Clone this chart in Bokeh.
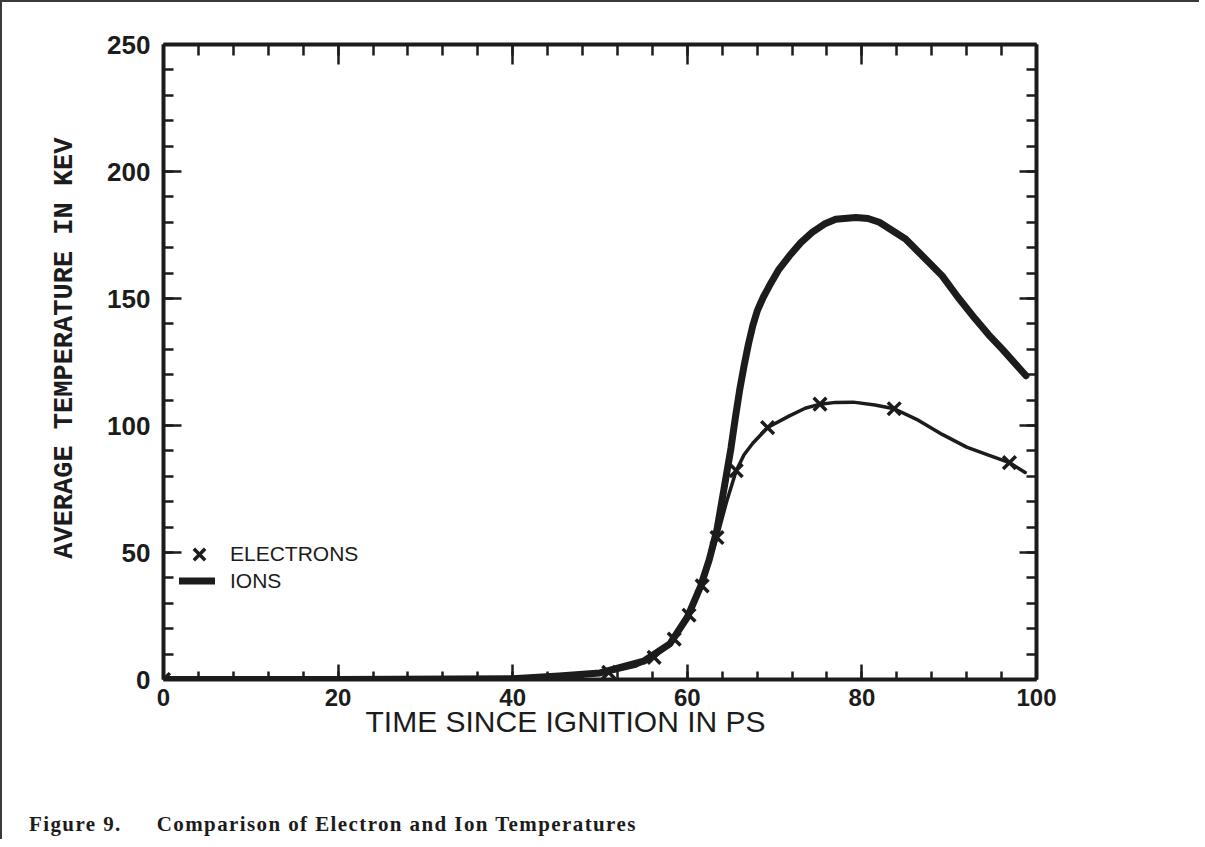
from bokeh.plotting import figure
from bokeh.models import (Range1d, LinearAxis, SingleIntervalTicker, Legend,
                          LegendItem, Title, Div)
from bokeh.layouts import column
from bokeh.embed import file_html
from bokeh.resources import INLINE

# ---------------- data ----------------
x_range_vals = [0, 100]
y_range_vals = [0, 250]

electron_marker_t = [0, 51.0, 56.2, 58.5, 60.2, 61.7, 63.4, 65.6, 69.2, 75.2, 83.7, 96.9]
electron_marker_T = [0, 2.8, 8.7, 15.9, 25.3, 36.9, 55.9, 82.2, 99.2, 108.4, 106.6, 85.4]

electron_curve_t = [0, 10, 20, 30, 40, 45, 48, 51.0, 54, 56.2, 58.5, 60.2, 61.7, 63.4, 64.5,
                    65.6, 66.5, 67.5, 69.2, 71.7, 73.5, 75.2, 77.0, 79.0, 81.5, 83.7, 86.5,
                    89.2, 92.0, 94.5, 96.9, 98.7]
electron_curve_T = [0, 0, 0, 0, 0.3, 1.0, 1.8, 2.8, 5.2, 8.7, 15.9, 25.3, 36.9, 55.9, 70,
                    82.2, 88.5, 93, 99.2, 103.8, 106.8, 108.4, 109.1, 109.2, 108.1, 106.6, 102,
                    96.5, 91.5, 88.3, 85.4, 81.5]

ion_t = [0, 20, 40, 45.3, 50, 55, 58, 60, 61.5, 62.5, 63.4, 64.2, 65.0, 65.5, 66.0, 66.5,
         67.0, 67.5, 68.0, 68.7, 69.4, 70.5, 71.7, 73.0, 74.3, 75.7, 77.0, 79.3, 80.7,
         82.0, 85.0, 87.0, 89.2, 91.0, 93.0, 94.5, 96.1, 98.8]
ion_T = [0, 0, 0.3, 1.4, 2.6, 7.2, 14, 24.5, 36.5, 47, 59, 75, 91, 103, 114, 123.5,
         132, 139.3, 145, 150.5, 155, 161.5, 166.8, 172, 176, 179.3, 181.2, 181.9, 181.5,
         180, 173.4, 166.5, 158.9, 150.5, 141.9, 135.8, 130, 119.6]

x_title = "TIME SINCE IGNITION IN PS"
y_title = "AVERAGE TEMPERATURE IN KEV"
caption_num = "Figure 9."
caption_text = "Comparison of Electron and Ion Temperatures"
series_names = ["ELECTRONS", "IONS"]

INK = "#1c1c1c"
SANS = "Liberation Sans"
MONO = "Liberation Mono"

# ---------------- figure ----------------
p = figure(width=1187, height=770, output_backend="svg", toolbar_location=None,
           x_range=Range1d(*x_range_vals), y_range=Range1d(*y_range_vals),
           x_axis_location=None, y_axis_location=None,
           min_border_left=161, min_border_right=153, min_border_top=42, min_border_bottom=93)
p.outline_line_color = None
p.grid.visible = False
p.background_fill_color = "white"
p.border_fill_color = "white"


def make_axis(kind, labels, major_in, minor_in):
    if kind == "x":
        ax = LinearAxis(ticker=SingleIntervalTicker(interval=20, num_minor_ticks=5))
    else:
        ax = LinearAxis(ticker=SingleIntervalTicker(interval=50, num_minor_ticks=5))
    ax.axis_line_width = 4
    ax.axis_line_color = INK
    ax.major_tick_in = major_in
    ax.major_tick_out = 0
    ax.minor_tick_in = minor_in
    ax.minor_tick_out = 0
    ax.major_tick_line_width = 2.5
    ax.minor_tick_line_width = 2.5
    ax.major_tick_line_color = INK
    ax.minor_tick_line_color = INK
    if labels:
        ax.major_label_text_font = SANS
        ax.major_label_text_font_style = "bold"
        ax.major_label_text_color = INK
        ax.major_label_standoff = 9 if kind == "x" else 13
        ax.major_label_text_font_size = "24px" if kind == "x" else "26px"
    else:
        ax.major_label_text_color = None
    return ax


p.add_layout(make_axis("x", True, 15, 8), "below")
p.add_layout(make_axis("x", False, 20, 11), "above")
p.add_layout(make_axis("y", True, 18, 10), "left")
p.add_layout(make_axis("y", False, 17, 10), "right")

# axis titles (as Title panels outside the frame)
p.add_layout(Title(text=x_title, align="left", offset=202, vertical_align="top",
                   standoff=-7, text_font=SANS, text_font_size="30px",
                   text_font_style="normal", text_color=INK), "below")
p.add_layout(Title(text=y_title, align="right", offset=93, vertical_align="bottom",
                   standoff=50, text_font=MONO, text_font_size="27px",
                   text_font_style="bold", text_color=INK), "left")

# ---------------- curves ----------------
ion_r = p.line(ion_t, ion_T, line_width=7, line_color=INK, line_join="round", line_cap="round")
p.line(electron_curve_t, electron_curve_T, line_width=3.5, line_color=INK,
       line_join="round", line_cap="round")
sc = p.scatter(electron_marker_t, electron_marker_T, marker="x", size=18,
               line_width=3.5, line_color=INK)

# ---------------- legend (two single-item legends) ----------------
common = dict(orientation="vertical", background_fill_alpha=0, border_line_color=None,
              padding=0, margin=0, spacing=0, label_text_font=SANS,
              label_text_font_size="21px", label_text_color=INK)
leg_e = Legend(items=[LegendItem(label=series_names[0], renderers=[sc])],
               location=(16, 105), glyph_width=40, glyph_height=40, label_height=40,
               label_standoff=11, **common)
leg_i = Legend(items=[LegendItem(label=series_names[1], renderers=[ion_r])],
               location=(16, 85), glyph_width=36, glyph_height=27, label_height=27,
               label_standoff=15, **common)
p.add_layout(leg_e)
p.add_layout(leg_i)

# ---------------- caption ----------------
caption_html = (
    '<div style="margin:0; padding:34px 0 0 22px; font-family:\'Liberation Serif\', serif; '
    'font-weight:bold; font-size:21px; letter-spacing:1.4px; line-height:27px; '
    'color:#1c1c1c; white-space:nowrap;">'
    + caption_num + '<span style="margin-left:35px">' + caption_text + '</span></div>'
)
cap = Div(text=caption_html, width=1187, height=57)

layout = column(p, cap, spacing=0,
                styles={"border-top": "2px solid #3a3a3a", "border-left": "2px solid #3a3a3a"})

open("out.html", "w").write(file_html(layout, INLINE))
